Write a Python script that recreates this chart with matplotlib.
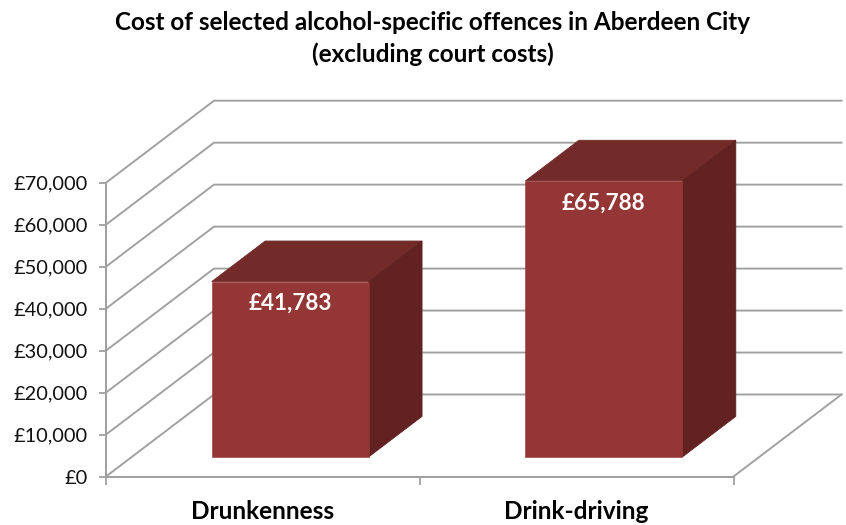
import matplotlib
matplotlib.use("Agg")
import matplotlib.pyplot as plt
from matplotlib.patches import Polygon

# data
categories = ["Drunkenness", "Drink-driving"]
values = [41783, 65788]
bar_labels = ["£41,783", "£65,788"]
y_ticks = [0, 10000, 20000, 30000, 40000, 50000, 60000, 70000]
y_tick_labels = ["£0", "£10,000", "£20,000", "£30,000", "£40,000", "£50,000", "£60,000", "£70,000"]

W, H = 846, 525
GRID = "#A0A0A0"
FRONT = "#933635"
TOP = "#722B29"
SIDE = "#612221"

plt.rcParams["font.family"] = ["Lato", "DejaVu Sans"]


def px(n):
    # pixels to points at dpi 100
    return n * 0.72


fig = plt.figure(figsize=(W / 100, H / 100), dpi=100, facecolor="white")
# the axes is the front plane of the 3D box
ax = fig.add_axes([106 / W, 1 - 476.5 / H, 627.5 / W, 293.8 / H])
ax.set_xlim(0, len(categories))
ax.set_ylim(0, 70000)

# full box depth expressed in data units
depth_x = 108.0 / 313.75
depth_y = 82.0 / 293.8 * 70000


def shift(x, y, d):
    """Move a point on the front plane back by depth fraction d"""
    return (x + d * depth_x, y + d * depth_y)


# walls and floor
for tick in y_ticks:
    x0, y0 = shift(0, tick, 0)
    x1, y1 = shift(0, tick, 1)
    x2, y2 = shift(len(categories), tick, 1)
    ax.plot([x0, x1, x2], [y0, y1, y2], color=GRID, lw=px(1.9), clip_on=False,
            solid_joinstyle="miter", zorder=1)
fx, fy = shift(len(categories), 0, 0)
bx, by = shift(len(categories), 0, 1)
ax.plot([fx, bx], [fy, by], color=GRID, lw=px(1.9), clip_on=False, zorder=1)

# bars
bar_width = 0.5
bar_front = 0.238
bar_depth = 0.495
for i, value in enumerate(values):
    left = i + 0.5 - bar_width / 2 + 0.005
    right = left + bar_width
    d0 = bar_front
    d1 = bar_front + bar_depth
    front = [shift(left, 0, d0), shift(right, 0, d0), shift(right, value, d0), shift(left, value, d0)]
    top = [shift(left, value, d0), shift(right, value, d0), shift(right, value, d1), shift(left, value, d1)]
    side = [shift(right, 0, d0), shift(right, 0, d1), shift(right, value, d1), shift(right, value, d0)]
    # thin same-colour edges close the seams between the faces
    ax.add_patch(Polygon(top, closed=True, facecolor=TOP, edgecolor=TOP, lw=0.6, clip_on=False, zorder=3))
    ax.add_patch(Polygon(side, closed=True, facecolor=SIDE, edgecolor=SIDE, lw=0.6, clip_on=False, zorder=3.5))
    ax.add_patch(Polygon(front, closed=True, facecolor=FRONT, edgecolor=FRONT, lw=0.4, clip_on=False, zorder=4))
    ax.annotate(bar_labels[i], xy=shift(i + 0.505, value, d0), xytext=(0, -px(22)),
                textcoords="offset points", ha="center", va="center", color="white",
                fontsize=px(22.5), fontweight="bold", zorder=5, annotation_clip=False)

# axes
for name in ["top", "right"]:
    ax.spines[name].set_visible(False)
for name in ["left", "bottom"]:
    ax.spines[name].set_color(GRID)
    ax.spines[name].set_linewidth(px(2))
ax.patch.set_alpha(0)
ax.set_yticks(y_ticks)
ax.set_yticklabels(y_tick_labels)
ax.set_xticks(range(len(categories) + 1))
ax.set_xticklabels([])
ax.set_xticks([i + 0.5 for i in range(len(categories))], minor=True)
ax.set_xticklabels(categories, minor=True, fontsize=px(24.4), fontweight="bold", color="black")
ax.tick_params(axis="x", which="major", length=px(7.5), width=px(1.8), color=GRID)
ax.tick_params(axis="x", which="minor", length=0, pad=px(23.5))
ax.tick_params(axis="y", length=px(7.5), width=px(1.8), color=GRID, labelsize=px(20), pad=px(11),
               labelcolor="#111111")

fig.text(432.5 / W, 1 - 23 / H, "Cost of selected alcohol-specific offences in Aberdeen City",
         ha="center", va="center", fontsize=px(24.3), fontweight="bold", color="black")
fig.text(432.5 / W, 1 - 54.5 / H, "(excluding court costs)",
         ha="center", va="center", fontsize=px(24.3), fontweight="bold", color="black")

fig.savefig("out.png", dpi=100, facecolor="white")
